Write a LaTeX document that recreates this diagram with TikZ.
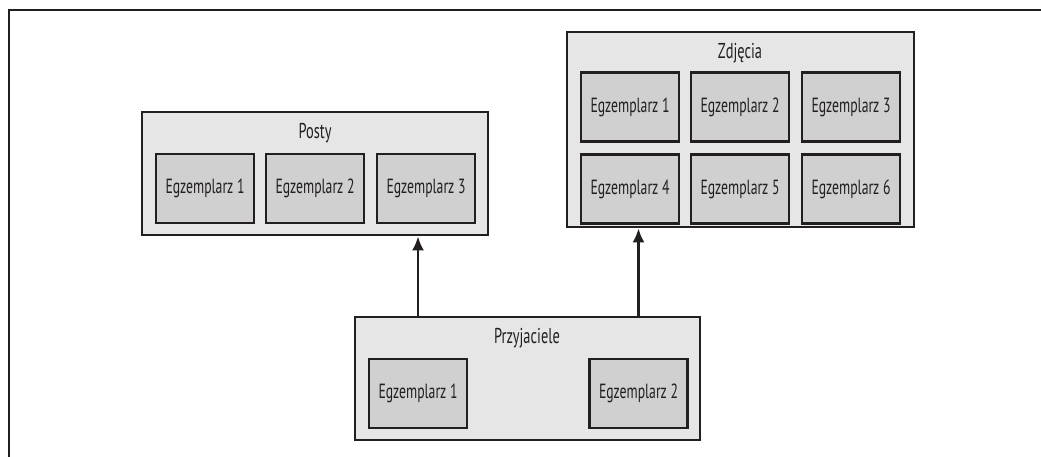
\documentclass[tikz,border=0pt]{standalone}
\usepackage{fontspec}
\setmainfont{PT Sans}[FakeStretch=0.67]
\usepackage{tikz}
\usetikzlibrary{arrows.meta}

\definecolor{ink}{HTML}{231F20}
\definecolor{outerfill}{HTML}{E6E6E6}
\definecolor{innerfill}{HTML}{D0D0D0}

\begin{document}
\begin{tikzpicture}[x=1pt,y=-1pt]
					\tikzstyle{group}=[draw=ink,line width=2.8pt,fill=outerfill,rectangle,inner sep=0pt]
					\tikzstyle{inst}=[draw=ink,line width=2.8pt,fill=innerfill,rectangle,minimum width=98pt,minimum height=69pt,text=ink,font=\fontsize{20.5}{24}\selectfont]
					\tikzstyle{title}=[text=ink,font=\fontsize{21.5}{25}\selectfont,inner sep=0pt]
					\tikzstyle{arr}=[draw=ink,line width=2.4pt,-{Latex[length=14pt,width=12pt]}]
					\useasboundingbox (0,0) rectangle (1041,457);

					% frame
					\draw[ink,line width=2.4pt] (9,457) -- (9,10) -- (1041,10);

					% Posty
					\node[group,minimum width=346pt,minimum height=123pt] (posty) at (315,173.5) {};
					\node[title] (postyt) at (315,133) {Posty};
					\node[inst] (po1) at (205,188.5) {Egzemplarz 1};
					\node[inst] (po2) at (315,188.5) {Egzemplarz 2};
					\node[inst] (po3) at (426,188.5) {Egzemplarz 3};

					% Zdjecia
					\node[group,minimum width=347pt,minimum height=195pt] (zdj) at (740.5,129.5) {};
					\node[title] (zdjt) at (740,53) {Zdjęcia};
					\node[inst] (zd1) at (630,107) {Egzemplarz 1};
					\node[inst] (zd2) at (740,107) {Egzemplarz 2};
					\node[inst] (zd3) at (851,107) {Egzemplarz 3};
					\node[inst] (zd4) at (630,189) {Egzemplarz 4};
					\node[inst] (zd5) at (740,189) {Egzemplarz 5};
					\node[inst] (zd6) at (851,189) {Egzemplarz 6};

					% Przyjaciele
					\node[group,minimum width=345pt,minimum height=123pt] (przyj) at (527.5,378.5) {};
					\node[title] (przyjt) at (527,338) {Przyjaciele};
					\node[inst] (pr1) at (418,393.5) {Egzemplarz 1};
					\node[inst] (pr2) at (638.5,393.5) {Egzemplarz 2};

					\draw[arr] (pr1.north |- przyj.north) -- (pr1.north |- posty.south);
					\draw[arr] (pr2.north |- przyj.north) -- (pr2.north |- zdj.south);
\end{tikzpicture}
\end{document}
